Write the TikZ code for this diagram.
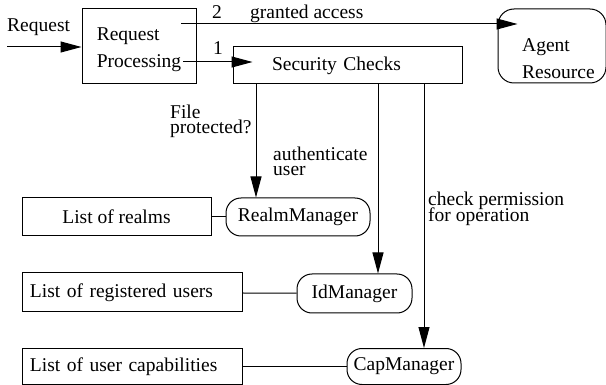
\documentclass[tikz,border=0pt]{standalone}
\usepackage{fontspec}
\setmainfont{Liberation Serif}
\usetikzlibrary{arrows.meta}

\begin{document}
\begin{tikzpicture}[x=1pt, y=-1pt,
    font=\fontsize{19.5}{27}\selectfont,
    box/.style={draw, line width=1pt, inner sep=0pt, align=left},
    mgr/.style={box, rounded corners=15pt},
    lbl/.style={inner sep=0pt, anchor=base west},
    arr/.style={line width=1pt, -{Triangle[length=21pt, width=11pt]}}]
  \useasboundingbox (0,0) rectangle (606,385);

  % main boxes
  \node[box, minimum width=114pt, minimum height=75pt] (proc) at (139,46) {\rule{0pt}{21pt}Request\\Processing};
  \node[box, rounded corners=16pt, minimum width=108pt, minimum height=74pt] (agent) at (552,46) {};
  \node[inner sep=0pt, align=left] (agenttxt) at (558.5,58.5) {Agent\\Resource};
  \node[box, minimum height=37pt, inner xsep=39pt, text width=151pt] (sec) at (347.5,65.5) {Security Checks};

  % managers and their lists
  \node[mgr, minimum width=144pt, minimum height=38pt] (realmmgr) at (298,217) {RealmManager};
  \node[box, minimum width=189pt, minimum height=38pt, align=center] (realms) at (116.5,217) {List of realms};
  \node[mgr, minimum width=115pt, minimum height=39pt] (idmgr) at (354.5,293.5) {IdManager};
  \node[box, minimum height=39pt, inner xsep=8pt, text width=204pt] (users) at (132,292.5) {List of registered users};
  \node[mgr, minimum width=114pt, minimum height=36pt] (capmgr) at (404,366.5) {CapManager};
  \node[box, minimum height=36pt, inner xsep=8pt, text width=204pt] (caps) at (132,366.5) {List of user capabilities};

  % labels
  \node[lbl] (reqlbl) at (7,31.7) {Request};
  \node[lbl] (two) at (212,18.3) {2};
  \node[lbl] (granted) at (250,18.3) {granted access};
  \node[lbl] (one) at (213,55) {1};
  \node[lbl] (file) at (170,118.3) {File};
  \node[lbl] (prot) at (170,133.3) {protected?};
  \node[lbl] (auth) at (273,160.7) {authenticate};
  \node[lbl] (user) at (273,175.5) {user};
  \node[lbl] (check) at (428,205.7) {check permission};
  \node[lbl] (forop) at (428,221.7) {for operation};

  % connectors
  \coordinate (in) at (7,47);
  \coordinate (g2) at (181,24);
  \coordinate (g1) at (183,62);
  \coordinate (c1) at (256,0);
  \coordinate (c2) at (378,0);
  \coordinate (c3) at (424,0);
  \draw[arr] (in) -- (in -| proc.west);
  \draw[arr, shorten >=-20pt] (g2) -- (g2 -| agent.west);
  \draw[arr, shorten >=-20pt] (g1) -- (g1 -| sec.west);
  \draw[arr] (c1 |- sec.south) -- (c1 |- realmmgr.north);
  \draw[arr] (c2 |- sec.south) -- (c2 |- idmgr.north);
  \draw[arr] (c3 |- sec.south) -- (c3 |- capmgr.north);
  \draw[line width=1pt] (realms) -- (realmmgr);
  \draw[line width=1pt] (users) -- (idmgr);
  \draw[line width=1pt] (caps) -- (capmgr);
\end{tikzpicture}
\end{document}
